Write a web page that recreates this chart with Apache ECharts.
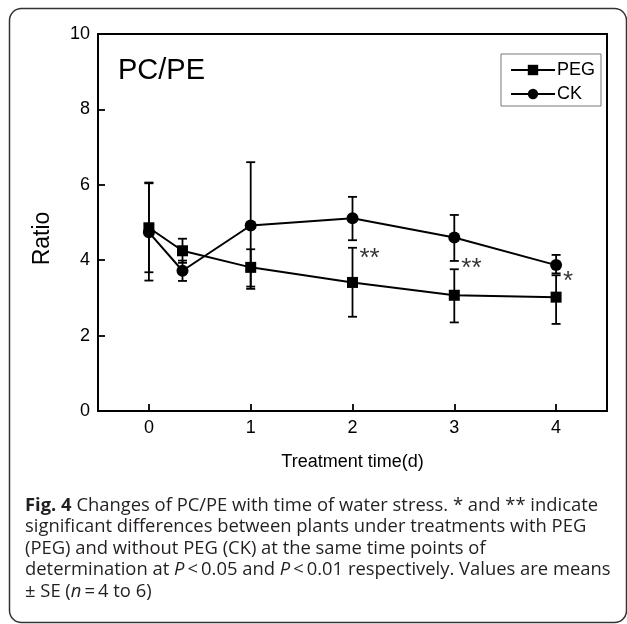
<!DOCTYPE html>
<html lang="en">
<head>
    <meta charset="UTF-8">
    <title>PC/PE</title>
    <style type="text/css">
        html, body { margin: 0; padding: 0; background: #fff; }
        #chart { width: 627px; height: 624px; }
    </style>
</head>
<body>
<div id="chart"></div>
<script type="text/javascript" src="https://cdn.jsdelivr.net/npm/echarts@6/dist/echarts.min.js"></script>
<script type="text/javascript">
    // treatment time (d)
    var days = [0, 0.33, 1, 2, 3, 4];
    var xTicks = [0, 1, 2, 3, 4];
    var yTicks = [0, 2, 4, 6, 8, 10];

    // PEG, means with lower / upper error bar ends
    var pegMean = [4.86, 4.25, 3.81, 3.41, 3.07, 3.02];
    var pegLow = [3.68, 3.93, 3.30, 2.50, 2.35, 2.31];
    var pegHigh = [6.06, 4.57, 4.29, 4.33, 3.76, 3.60];

    // CK
    var ckMean = [4.74, 3.72, 4.92, 5.11, 4.60, 3.87];
    var ckLow = [3.46, 3.45, 3.24, 4.53, 3.98, 3.65];
    var ckHigh = [6.04, 3.99, 6.60, 5.68, 5.20, 4.14];

    // significance marks
    var sigDays = [2, 3, 4];
    var sigY = [4.03, 3.77, 3.42];
    var sigText = ['**', '**', '*'];

    function pairs(xs, ys) {
        return xs.map(function (x, i) { return [x, ys[i]]; });
    }

    function errData(low, high) {
        return days.map(function (d, i) { return [d, low[i], high[i]]; });
    }

    function renderErr(params, api) {
        var x = api.value(0);
        var lo = api.coord([x, api.value(1)]);
        var hi = api.coord([x, api.value(2)]);
        var w = 4.5;
        var st = { stroke: '#000', lineWidth: 1.8 };
        return {
            type: 'group',
            children: [
                { type: 'line', shape: { x1: lo[0], y1: lo[1], x2: hi[0], y2: hi[1] }, style: st },
                { type: 'line', shape: { x1: lo[0] - w, y1: lo[1], x2: lo[0] + w, y2: lo[1] }, style: st },
                { type: 'line', shape: { x1: hi[0] - w, y1: hi[1], x2: hi[0] + w, y2: hi[1] }, style: st }
            ]
        };
    }

    var chart = echarts.init(document.getElementById('chart'));
    var font = 'Liberation Sans, Arial, sans-serif';
    var capFont = 'Open Sans, sans-serif';
    var capSize = 18.4;

    chart.setOption({
        animation: false,
        textStyle: { fontFamily: font, color: '#000' },
        title: [{
            text: 'PC/PE',
            left: 113,
            top: 51,
            textStyle: { fontFamily: font, fontSize: 29, fontWeight: 'normal', color: '#000' }
        }, {
            text: '{b|Fig. 4} Changes of PC/PE with time of water stress. * and ** indicate\n' +
                'significant differences between plants under treatments with PEG\n' +
                '(PEG) and without PEG (CK) at the same time points of\n' +
                'determination at {i|P}\u2009<\u20090.05 and {i|P}\u2009<\u20090.01 respectively. Values are means\n' +
                '\u00b1 SE ({i|n}\u2009=\u20094 to 6)',
            left: 25,
            top: 495,
            padding: 0,
            textStyle: {
                fontFamily: capFont, fontSize: capSize, fontWeight: 'normal', color: '#231f20', lineHeight: 21.4,
                rich: {
                    b: { fontFamily: capFont, fontSize: capSize, fontWeight: 'bold', color: '#231f20', lineHeight: 21.4 },
                    i: { fontFamily: capFont, fontSize: capSize, fontStyle: 'italic', color: '#231f20', lineHeight: 21.4 }
                }
            }
        }],
        graphic: [{
            type: 'rect',
            shape: { x: 9.5, y: 8.5, width: 617, height: 614, r: 12 },
            style: { fill: null, stroke: '#333', lineWidth: 1.5 },
            silent: true
        }],
        legend: {
            data: ['PEG', 'CK'],
            orient: 'vertical',
            right: 26,
            top: 54,
            padding: [7, 6, 3, 9],
            itemWidth: 44,
            itemHeight: 13,
            itemGap: 6,
            borderColor: '#777',
            borderWidth: 1,
            borderRadius: 0,
            textStyle: { fontFamily: font, fontSize: 18, color: '#000', padding: [0, 0, 0, -3] }
        },
        grid: {
            left: 98,
            right: 20,
            top: 34,
            bottom: 213,
            show: true,
            borderColor: '#000',
            borderWidth: 2
        },
        xAxis: {
            type: 'value',
            min: -0.5,
            max: 4.5,
            name: 'Treatment time(d)',
            nameLocation: 'middle',
            nameGap: 42,
            nameTextStyle: { fontFamily: font, fontSize: 18, color: '#000' },
            splitLine: { show: false },
            axisLine: { show: true, onZero: false, lineStyle: { color: '#000', width: 2 } },
            axisTick: { show: true, inside: true, length: 7, customValues: xTicks, lineStyle: { color: '#000', width: 1.8 } },
            axisLabel: { customValues: xTicks, margin: 8, fontFamily: font, fontSize: 18, color: '#000' }
        },
        yAxis: {
            type: 'value',
            min: 0,
            max: 10,
            interval: 2,
            name: 'Ratio',
            nameLocation: 'middle',
            nameGap: 44,
            nameTextStyle: { fontFamily: font, fontSize: 23, color: '#000', padding: [0, 32, 0, 0] },
            splitLine: { show: false },
            axisLine: { show: true, onZero: false, lineStyle: { color: '#000', width: 2 } },
            axisTick: { show: true, inside: true, length: 7, customValues: yTicks, lineStyle: { color: '#000', width: 1.8 } },
            axisLabel: { customValues: yTicks, margin: 8, fontFamily: font, fontSize: 18, color: '#000' }
        },
        series: [{
            name: 'PEG',
            type: 'line',
            data: pairs(days, pegMean),
            symbol: 'rect',
            symbolSize: 11,
            itemStyle: { color: '#000' },
            lineStyle: { color: '#000', width: 2 },
            z: 3
        }, {
            name: 'CK',
            type: 'line',
            data: pairs(days, ckMean),
            symbol: 'circle',
            symbolSize: 12,
            itemStyle: { color: '#000' },
            lineStyle: { color: '#000', width: 2 },
            z: 3
        }, {
            type: 'custom',
            renderItem: renderErr,
            data: errData(pegLow, pegHigh),
            z: 2
        }, {
            type: 'custom',
            renderItem: renderErr,
            data: errData(ckLow, ckHigh),
            z: 2
        }, {
            type: 'scatter',
            symbolSize: 0,
            data: sigDays.map(function (d, i) { return { value: [d, sigY[i]], name: sigText[i] }; }),
            label: {
                show: true,
                position: 'right',
                distance: 7,
                formatter: '{b}',
                fontFamily: font,
                fontSize: 26,
                color: '#000'
            }
        }]
    });
</script>
</body>
</html>
